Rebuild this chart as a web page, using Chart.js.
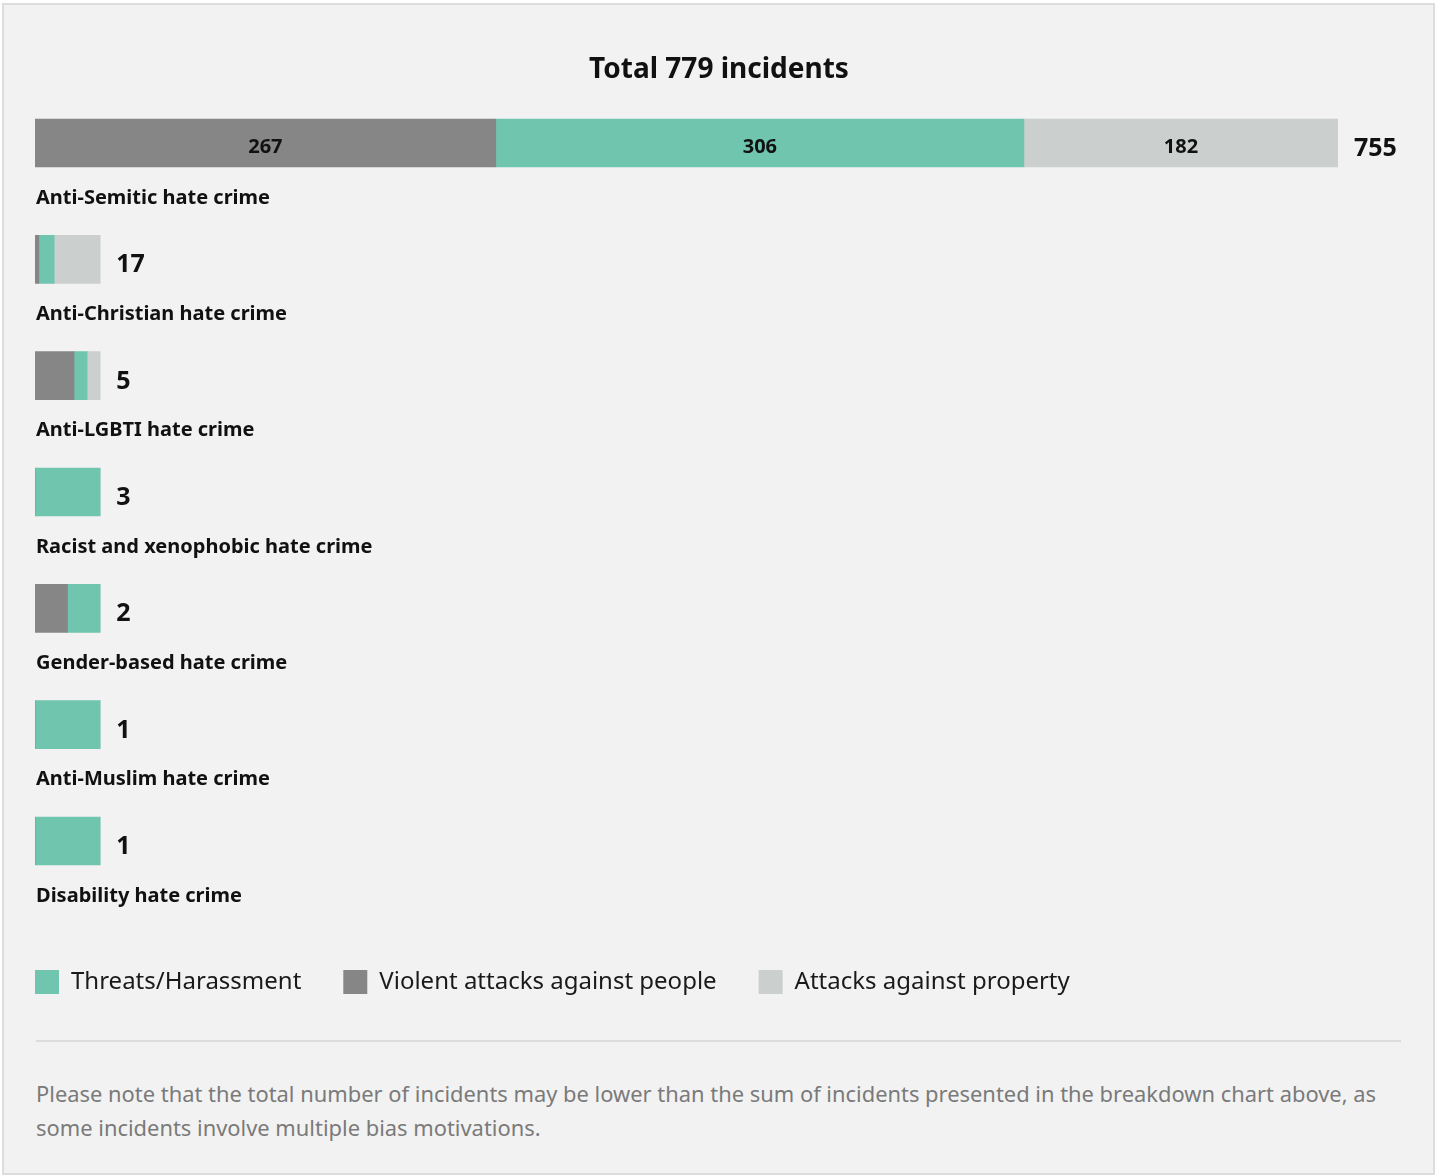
<!DOCTYPE html>
<html>
<head>
<meta charset="utf-8">
<script src="https://cdn.jsdelivr.net/npm/chart.js@4"></script>
<style>
  body { margin: 0; background: #fff; font-family: "Noto Sans", sans-serif; }
  #box { position: absolute; left: 2px; top: 3px; width: 1429px; height: 1168px;
         border: 2px solid #dddddd; background: #f2f2f2; }
  #wrap { position: absolute; left: 0; top: 0; width: 1435px; height: 1004px; }
  #rule { position: absolute; left: 36px; top: 1040px; width: 1365px; height: 2px; background: #dcdcdc; }
  #note { position: absolute; left: 36px; top: 1077px; font-size: 21.9px; line-height: 34px;
          color: #7a7a7a; white-space: nowrap; }
</style>
</head>
<body>
<div id="box"></div>
<div id="wrap"><canvas id="myChart" width="1435" height="1004"></canvas></div>
<div id="rule"></div>
<div id="note">Please note that the total number of incidents may be lower than the sum of incidents presented in the breakdown chart above, as<br>some incidents involve multiple bias motivations.</div>
<script>
let categories = [
  'Anti-Semitic hate crime',
  'Anti-Christian hate crime',
  'Anti-LGBTI hate crime',
  'Racist and xenophobic hate crime',
  'Gender-based hate crime',
  'Anti-Muslim hate crime',
  'Disability hate crime'
];

// stack order left to right: violent, threats, property
let violent = [267, 1, 3, 0, 1, 0, 0];
let threats = [306, 4, 1, 3, 1, 1, 1];
let property = [182, 12, 1, 0, 0, 0, 0];

let seriesNames = ['Violent attacks against people', 'Threats/Harassment', 'Attacks against property'];
let seriesColors = ['#868686', '#70c5ae', '#cbcfce'];
let legendRank = [1, 0, 2];

let totals = categories.map(function (c, i) {
  return violent[i] + threats[i] + property[i];
});
let maxTotal = Math.max.apply(null, totals);

// small rows are stretched so they are still visible
let minShare = 0.05;
let stretch = totals.map(function (t) {
  return Math.max(1, maxTotal * minShare / t);
});

function scaled(arr) {
  return arr.map(function (v, i) { return v * stretch[i]; });
}

let font = '"Noto Sans", sans-serif';

let labelsPlugin = {
  id: 'rowLabels',
  afterDatasetsDraw(chart) {
    let ctx = chart.ctx;
    let metas = [0, 1, 2].map(function (d) { return chart.getDatasetMeta(d); });
    ctx.save();
    categories.forEach(function (cat, i) {
      let y = metas[0].data[i].y;
      let end = chart.chartArea.left;
      metas.forEach(function (meta, d) {
        let bar = meta.data[i];
        end = Math.max(end, bar.x);
        let raw = [violent, threats, property][d][i];
        if (stretch[i] === 1 && Math.abs(bar.x - bar.base) > 40) {
          ctx.font = 'bold 20px ' + font;
          ctx.fillStyle = '#111';
          ctx.textAlign = 'center';
          ctx.textBaseline = 'middle';
          ctx.fillText(raw, (bar.x + bar.base) / 2, y + 4);
        }
      });
      ctx.font = 'bold 25px ' + font;
      ctx.fillStyle = '#111';
      ctx.textAlign = 'left';
      ctx.textBaseline = 'middle';
      ctx.fillText(totals[i], end + 16, y + 6);

      ctx.font = 'bold 20px ' + font;
      ctx.fillText(cat, chart.chartArea.left + 1, y + 55);
    });
    ctx.restore();
  }
};

let data = {
  labels: categories,
  datasets: [violent, threats, property].map(function (arr, d) {
    return {
      label: seriesNames[d],
      data: scaled(arr),
      backgroundColor: seriesColors[d],
      borderWidth: 0,
      barThickness: 48
    };
  })
};

let hidden = {
  grid: { display: false }, border: { display: false },
  ticks: { display: false }
};

let config = {
  type: 'bar',
  data: data,
  plugins: [labelsPlugin],
  options: {
    indexAxis: 'y',
    responsive: false,
    animation: false,
    layout: { padding: { left: -7, right: -10, top: 0, bottom: 0 } },
    scales: {
      x: Object.assign({
        stacked: true, min: 0, max: maxTotal,
        afterFit: function (s) { s.height = 28.8; }
      }, hidden),
      y: Object.assign({
        stacked: true,
        afterFit: function (s) { s.width = 42; }
      }, hidden),
      yRight: Object.assign({
        type: 'category', position: 'right', labels: categories,
        afterFit: function (s) { s.width = 107; }
      }, hidden)
    },
    plugins: {
      title: {
        display: true,
        text: 'Total 779 incidents',
        color: '#111',
        font: { family: font, size: 28, weight: 'bold', lineHeight: 1 },
        padding: { top: 56, bottom: 0.8 }
      },
      legend: {
        position: 'bottom',
        align: 'start',
        labels: {
          boxWidth: 24,
          boxHeight: 24,
          padding: 42,
          color: '#1a1a1a',
          font: { family: font, size: 24 },
          sort: function (a, b) { return legendRank[a.datasetIndex] - legendRank[b.datasetIndex]; }
        }
      },
      tooltip: { enabled: false }
    }
  }
};

let myChart = new Chart(document.getElementById('myChart'), config);
</script>
</body>
</html>
